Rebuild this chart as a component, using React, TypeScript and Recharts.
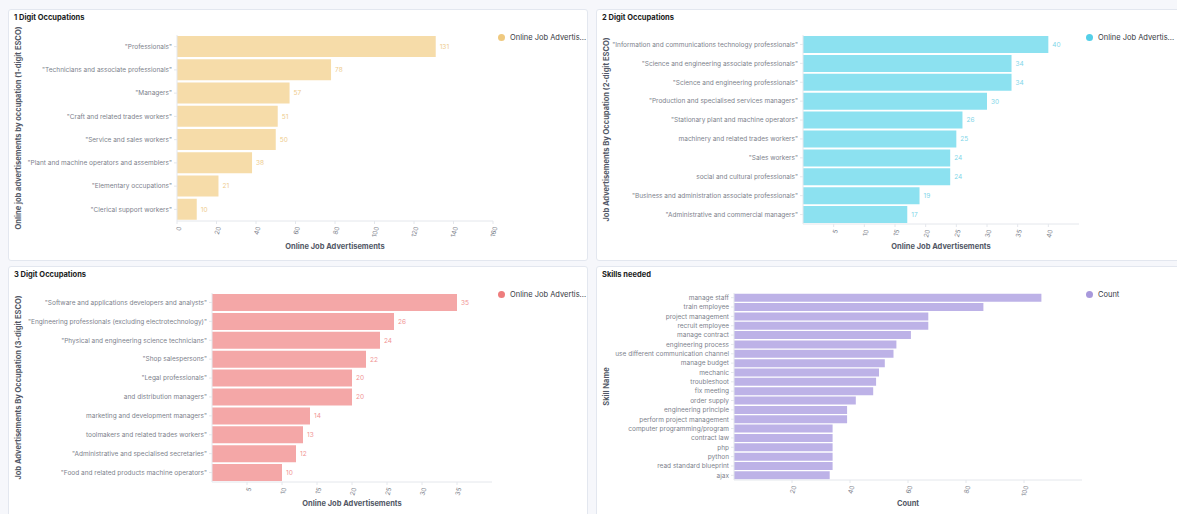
import { BarChart, Bar, XAxis, YAxis, LabelList, Label } from "recharts";

// 1-digit ESCO occupations
const oneDigitNames = [
  '"Professionals"',
  '"Technicians and associate professionals"',
  '"Managers"',
  '"Craft and related trades workers"',
  '"Service and sales workers"',
  '"Plant and machine operators and assemblers"',
  '"Elementary occupations"',
  '"Clerical support workers"',
];
const oneDigitAds = [131, 78, 57, 51, 50, 38, 21, 10];
const oneDigitTicks = [0, 20, 40, 60, 80, 100, 120, 140, 160];

// 2-digit ESCO occupations
const twoDigitNames = [
  '"Information and communications technology professionals"',
  '"Science and engineering associate professionals"',
  '"Science and engineering professionals"',
  '"Production and specialised services managers"',
  '"Stationary plant and machine operators"',
  'machinery and related trades workers"',
  '"Sales workers"',
  'social and cultural professionals"',
  '"Business and administration associate professionals"',
  '"Administrative and commercial managers"',
];
const twoDigitAds = [40, 34, 34, 30, 26, 25, 24, 24, 19, 17];
const twoDigitTicks = [5, 10, 15, 20, 25, 30, 35, 40];

// 3-digit ESCO occupations
const threeDigitNames = [
  '"Software and applications developers and analysts"',
  '"Engineering professionals (excluding electrotechnology)"',
  '"Physical and engineering science technicians"',
  '"Shop salespersons"',
  '"Legal professionals"',
  'and distribution managers"',
  'marketing and development managers"',
  'toolmakers and related trades workers"',
  '"Administrative and specialised secretaries"',
  '"Food and related products machine operators"',
];
const threeDigitAds = [35, 26, 24, 22, 20, 20, 14, 13, 12, 10];
const threeDigitTicks = [5, 10, 15, 20, 25, 30, 35];

// skills
const skillNames = [
  "manage staff",
  "train employee",
  "project management",
  "recruit employee",
  "manage contract",
  "engineering process",
  "use different communication channel",
  "manage budget",
  "mechanic",
  "troubleshoot",
  "fix meeting",
  "order supply",
  "engineering principle",
  "perform project management",
  "computer programming/program",
  "contract law",
  "php",
  "python",
  "read standard blueprint",
  "ajax",
];
const skillCounts = [106, 86, 67, 67, 61, 56, 55, 52, 50, 49, 48, 42, 39, 39, 34, 34, 34, 34, 34, 33];
const skillTicks = [20, 40, 60, 80, 100];

const TICK_COLOR = "#7d828c";
const AXIS_COLOR = "#e4e7ec";
const TITLE_COLOR = "#525866";

type PanelProps = {
  left: number;
  top: number;
  width: number;
  title: string;
  yTitle: string;
  xTitle: string;
  legend: string;
  names: string[];
  values: number[];
  ticks: number[];
  domain: [number, number];
  fill: string;
  dot: string;
  valueColor?: string;
  plot: { left: number; top: number; right: number; bottom: number };
  gap: number;
};

const HEIGHT = 252;

// single-line category label (the default tick wraps long names)
const CategoryTick = (props: any) => {
  const { x, y, payload } = props;
  return (
    <text x={x} y={y} dy="0.35em" textAnchor="end" fontSize={6.5} fill={TICK_COLOR}>
      {payload.value}
    </text>
  );
};

const Panel = (p: PanelProps) => {
  const data = p.names.map((name, i) => ({ name, value: p.values[i] }));

  const renderYTitle = (props: any) => {
    const vb = props.viewBox;
    const x = 10;
    const y = vb.y + vb.height / 2;
    return (
      <text
        x={x}
        y={y}
        transform={`rotate(-90, ${x}, ${y})`}
        textAnchor="middle"
        dominantBaseline="central"
        fontSize={7.5}
        fontWeight={700}
        fill={TITLE_COLOR}
      >
        {p.yTitle}
      </text>
    );
  };

  const renderXTitle = (props: any) => {
    const vb = props.viewBox;
    return (
      <text
        x={vb.x + vb.width / 2}
        y={237}
        textAnchor="middle"
        dominantBaseline="central"
        fontSize={7.5}
        fontWeight={700}
        fill={TITLE_COLOR}
      >
        {p.xTitle}
      </text>
    );
  };

  return (
    <div
      style={{
        position: "absolute",
        left: p.left,
        top: p.top,
        width: p.width,
        height: HEIGHT,
        background: "#fff",
        border: "1px solid #e3e7ef",
        borderRadius: 3,
        boxSizing: "border-box",
      }}
    >
      <div
        style={{
          position: "absolute",
          left: 5,
          top: 3,
          fontSize: 7.5,
          fontWeight: 700,
          color: "#1a1c21",
        }}
      >
        {p.title}
      </div>
      <div
        style={{
          position: "absolute",
          left: 489,
          top: 23,
          display: "flex",
          alignItems: "center",
          fontSize: 7.5,
          color: "#343741",
        }}
      >
        <span
          style={{
            width: 7,
            height: 7,
            borderRadius: "50%",
            background: p.dot,
            marginRight: 5,
          }}
        />
        {p.legend}
      </div>
      <div style={{ position: "absolute", left: -1, top: -1 }}>
        <BarChart
          width={p.width}
          height={HEIGHT}
          data={data}
          layout="vertical"
          barCategoryGap={p.gap}
          margin={{ top: p.plot.top, right: p.width - p.plot.right, left: 0, bottom: 0 }}
        >
          <XAxis
            type="number"
            domain={p.domain}
            ticks={p.ticks}
            interval={0}
            height={HEIGHT - p.plot.bottom}
            stroke={AXIS_COLOR}
            tickSize={3}
            angle={-75}
            textAnchor="end"
            tick={{ fontSize: 6.5, fill: TICK_COLOR }}
          >
            <Label content={renderXTitle} />
          </XAxis>
          <YAxis
            type="category"
            dataKey="name"
            width={p.plot.left}
            interval={0}
            stroke={AXIS_COLOR}
            tickSize={3}
            tick={<CategoryTick />}
          >
            <Label content={renderYTitle} />
          </YAxis>
          <Bar dataKey="value" fill={p.fill} isAnimationActive={false}>
            {p.valueColor && (
              <LabelList
                dataKey="value"
                position="right"
                offset={4}
                fontSize={6.5}
                fill={p.valueColor}
              />
            )}
          </Bar>
        </BarChart>
      </div>
    </div>
  );
};

export default function App() {
  return (
    <div
      style={{
        position: "absolute",
        left: 0,
        top: 0,
        width: 1177,
        height: 514,
        overflow: "hidden",
        background: "#f6f7fb",
        fontFamily: "Inter, 'Noto Sans', sans-serif",
      }}
    >
      <Panel
        left={8}
        top={9}
        width={580}
        title="1 Digit Occupations"
        yTitle="Online job advertisements by occupation (1-digit ESCO)"
        xTitle="Online Job Advertisements"
        legend="Online Job Advertis..."
        names={oneDigitNames}
        values={oneDigitAds}
        ticks={oneDigitTicks}
        domain={[0, 160]}
        fill="#f6dca9"
        dot="#efc97f"
        valueColor="#eecb8c"
        plot={{ left: 169, top: 26, right: 485, bottom: 212 }}
        gap={1}
      />
      <Panel
        left={596}
        top={9}
        width={590}
        title="2 Digit Occupations"
        yTitle="Job Advertisements By Occupation (2-digit ESCO)"
        xTitle="Online Job Advertisements"
        legend="Online Job Advertis..."
        names={twoDigitNames}
        values={twoDigitAds}
        ticks={twoDigitTicks}
        domain={[0, 45]}
        fill="#8ce1f0"
        dot="#54cfe8"
        valueColor="#7fd6e9"
        plot={{ left: 207, top: 26, right: 483, bottom: 215 }}
        gap={1}
      />
      <Panel
        left={8}
        top={266}
        width={580}
        title="3 Digit Occupations"
        yTitle="Job Advertisements By Occupation (3-digit ESCO)"
        xTitle="Online Job Advertisements"
        legend="Online Job Advertis..."
        names={threeDigitNames}
        values={threeDigitAds}
        ticks={threeDigitTicks}
        domain={[0, 40]}
        fill="#f4a7a7"
        dot="#ee7d7d"
        valueColor="#f19393"
        plot={{ left: 204, top: 27, right: 484, bottom: 216 }}
        gap={1}
      />
      <Panel
        left={596}
        top={266}
        width={590}
        title="Skills needed"
        yTitle="Skill Name"
        xTitle="Count"
        legend="Count"
        names={skillNames}
        values={skillCounts}
        ticks={skillTicks}
        domain={[0, 120]}
        fill="#bdb2e7"
        dot="#a899dc"
        plot={{ left: 138, top: 27, right: 486, bottom: 214 }}
        gap={0.7}
      />
    </div>
  );
}
